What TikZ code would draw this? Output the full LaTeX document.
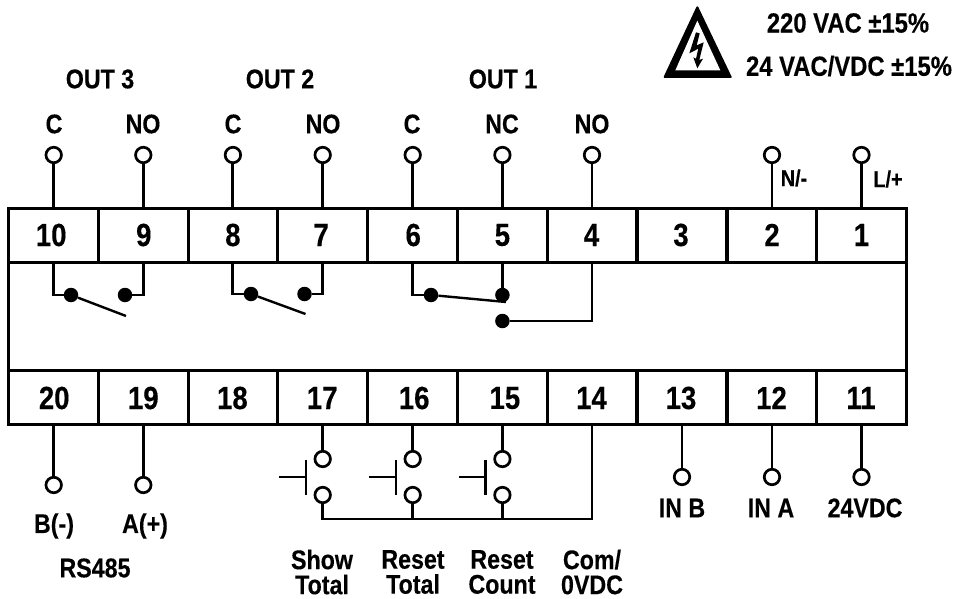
\documentclass[tikz,border=0pt]{standalone}
\usepackage{fontspec}
\setmainfont[FakeStretch=0.86,FakeBold=0.3]{Liberation Sans}
\begin{document}
\begin{tikzpicture}[x=1pt,y=-1pt,
  wire/.style={line width=2.9pt,black,line join=miter},
  cell/.style={draw,line width=3pt,minimum width=89.7pt,minimum height=54pt,inner sep=0pt},
  num/.style={inner sep=0pt,font=\fontsize{32}{34}\selectfont\bfseries},
  term/.style={circle,draw,line width=2.7pt,fill=white,minimum size=15.5pt,inner sep=0pt},
  dotc/.style={circle,fill=black,minimum size=14.5pt,inner sep=0pt},
  lab/.style={inner sep=0pt,align=center,font=\fontsize{27}{25}\selectfont\bfseries},
  small/.style={inner sep=0pt,font=\fontsize{23}{21}\selectfont\bfseries},
  head/.style={inner sep=0pt,font=\fontsize{27.7}{26}\selectfont\bfseries}]
\useasboundingbox (0,0) rectangle (956,599);
\fill[white] (0,0) rectangle (956,599);
% body
\node[draw,line width=3pt,minimum width=897.6pt,minimum height=216pt,inner sep=0pt] (body) at (457.5,316) {};
% cells
\foreach \n/\x/\d in {10/53.7/-2.5,9/143.3/0.5,8/232.9/0,7/322.7/-1.5,6/412.7/0.5,5/502.4/0,4/592/-0.5,3/682/-1,2/772/0,1/861.5/0}{
  \node[cell] (t\n) at (\x,235) {};
  \node[num] (m\n) at (\x+\d,235) {\n};
}
\foreach \n/\x/\d in {20/53.7/0.5,19/143.3/0,18/232.9/-0.5,17/322.7/-0.5,16/412.7/1.5,15/502.4/2.5,14/592/-0.5,13/682/-1,12/772/-0.5,11/861.5/-0.5}{
  \node[cell] (t\n) at (\x,397) {};
  \node[num] (m\n) at (\x+\d,398) {\n};
}
% top terminals
\foreach \n/\x in {10/53.7,9/143.3,8/232.9,7/322.7,6/412.7,5/502.4,4/592,2/772,1/861.5}{
  \node[term] (p\n) at (\x,155) {};
  \draw[wire] (p\n) -- (t\n.north);
}
% bottom terminals
\foreach \n/\x/\y in {20/53.7/485,19/143.3/485,13/682/477,12/772/477,11/861.5/477}{
  \node[term] (p\n) at (\x,\y) {};
  \draw[wire] (t\n.south) -- (p\n);
}
% relay contacts
\node[dotc] (a10) at (71,295) {};
\node[dotc] (a9) at (125,295) {};
\coordinate (e1) at (126,316);
\draw[wire] (t10.south) |- (a10);
\draw[wire] (t9.south) |- (a9);
\draw[wire,line width=2.4pt] (a10) -- (e1);
\node[dotc] (a8) at (251,294) {};
\node[dotc] (a7) at (304.5,294) {};
\coordinate (e2) at (305.5,314);
\draw[wire] (t8.south) |- (a8);
\draw[wire] (t7.south) |- (a7);
\draw[wire,line width=2.4pt] (a8) -- (e2);
\node[dotc] (a6) at (431,295) {};
\node[dotc] (a5) at (502.4,295) {};
\node[dotc] (a4) at (502.4,321) {};
\coordinate (e3) at (506,302);
\draw[wire] (t6.south) |- (a6);
\draw[wire] (t5.south) -- (a5);
\draw[wire] (t4.south) |- (a4);
\draw[wire,line width=2.4pt] (a6) -- (e3);
% push buttons
\foreach \n/\x/\bx/\cx in {17/322.7/306/279,16/412.7/396/369,15/502.4/485.5/459}{
  \node[term] (u\n) at (\x,459) {};
  \node[term] (l\n) at (\x,495) {};
  \draw[wire] (t\n.south) -- (u\n);
  \coordinate (bt\n) at (\bx,459.5);
  \coordinate (bb\n) at (\bx,494.5);
  \coordinate (bm\n) at (\bx,477);
  \coordinate (bc\n) at (\cx,477);
  \draw[wire] (bt\n) -- (bb\n);
  \draw[wire] (bc\n) -- (bm\n);
}
\coordinate (busE) at (592,519);
\draw[wire] (l17) |- (busE) -- (t14.south);
\draw[wire] (l16) -- (l16 |- busE);
\draw[wire] (l15) -- (l15 |- busE);
% warning triangle
\begin{scope}[shift={(640,0)},x=0.3333pt,y=-0.3333pt]
  \fill[black,line join=round,draw=black,line width=2pt] (172,22) -- (272,231) -- (74,231) -- cycle;
  \fill[white] (172,62) -- (241,211) -- (106,211) -- cycle;
  \fill[black] (168,97) -- (179,100) -- (170,136) -- (191,127) -- (178,180) -- (189,176) -- (172,205) -- (160,172) -- (168,176) -- (175,146) -- (148,160) -- cycle;
\end{scope}
% labels
\node[head] (v1) at (848,23) {220 VAC ±15\%};
\node[head] (v2) at (849,66) {24 VAC/VDC ±15\%};
\node[lab] (o3) at (100,79) {OUT 3};
\node[lab] (o2) at (280,79) {OUT 2};
\node[lab] (o1) at (503,79) {OUT 1};
\node[lab] (c1) at (54,124) {C};
\node[lab] (c2) at (143,124) {NO};
\node[lab] (c3) at (233,124) {C};
\node[lab] (c4) at (323,124) {NO};
\node[lab] (c5) at (412,124) {C};
\node[lab] (c6) at (502,124) {NC};
\node[lab] (c7) at (592,124) {NO};
\node[small] (n) at (794,178) {N/-};
\node[small] (l) at (888,179) {L/+};
\node[lab] (b) at (54,526) {B(-)};
\node[lab] (a) at (145,526) {A(+)};
\node[lab] (rs) at (95,568) {RS485};
\node[lab] (ib) at (682,508) {IN B};
\node[lab] (ia) at (771,508) {IN A};
\node[lab] (v24) at (865,508) {24VDC};
\node[lab] (s1) at (322,572) {Show\\Total};
\node[lab] (s2) at (413,572) {Reset\\Total};
\node[lab] (s3) at (502,572) {Reset\\Count};
\node[lab] (s4) at (592,572) {Com/\\0VDC};
\end{tikzpicture}
\end{document}
